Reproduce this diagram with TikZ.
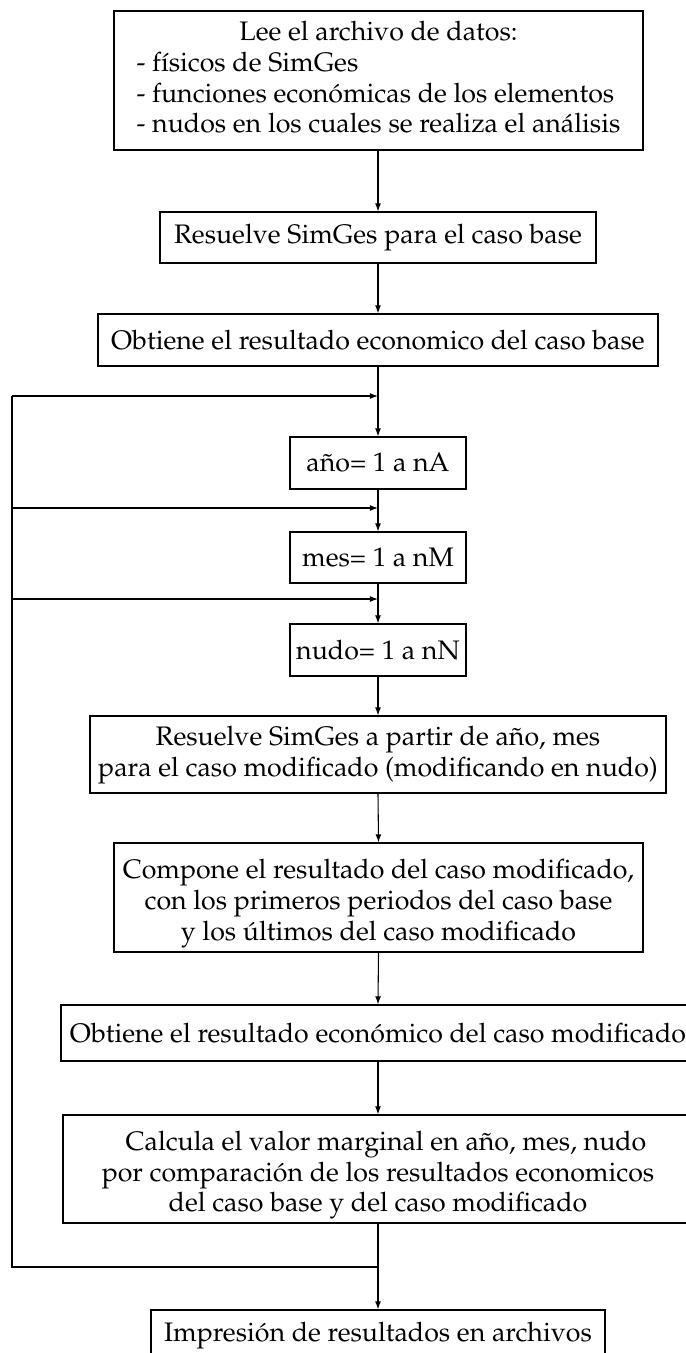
\documentclass[tikz,border=0pt]{standalone}
\usepackage[T1]{fontenc}
\usepackage{mathpazo}
\usetikzlibrary{arrows.meta}
\newlength\pxu
\setlength\pxu{0.3736pt}
\tikzset{
  box/.style={draw, line width=0.45pt, inner sep=0pt, font=\fontsize{10}{11.5}\selectfont},
  flow/.style={line width=0.4pt, -{Latex[length=3pt,width=2.2pt]}},
  loopline/.style={line width=0.4pt},
}
\begin{document}
\begin{tikzpicture}[x=0.3736pt, y=-0.3736pt]
\useasboundingbox (0,0) rectangle (686,1353);
\clip (0,0) rectangle (686,1353);
\node[box, minimum width=529\pxu, minimum height=139\pxu] (b1) at (378.5,80.5)
  {\begin{tabular}{@{}l@{}}\multicolumn{1}{@{}c@{}}{Lee el archivo de datos:}\\
   - físicos de SimGes\\
   - funciones económicas de los elementos\\
   - nudos en los cuales se realiza el análisis\end{tabular}};
\node[box, minimum width=436\pxu, minimum height=51\pxu] (b2) at (378,237.5) {Resuelve SimGes para el caso base};
\node[box, minimum width=560\pxu, minimum height=52\pxu] (b3) at (378,340) {Obtiene el resultado economico del caso base};
\node[box, minimum width=176\pxu, minimum height=52\pxu] (ano) at (378,463) {año= 1 a nA};
\node[box, minimum width=176\pxu, minimum height=51\pxu] (mes) at (378,557.5) {mes= 1 a nM};
\node[box, minimum width=176\pxu, minimum height=52\pxu] (nudo) at (378,650) {nudo= 1 a nN};
\node[box, minimum width=576\pxu, minimum height=77\pxu] (rp) at (378,754.5)
  {\begin{tabular}{@{}c@{}}Resuelve SimGes a partir de año, mes\\para el caso modificado (modificando en nudo)\end{tabular}};
\node[box, minimum width=529\pxu, minimum height=109\pxu] (comp) at (378.5,897.5)
  {\begin{tabular}{@{}c@{}}\rule{0pt}{12.5pt}Compone el resultado del caso modificado,\\con los primeros periodos del caso base\\y los últimos del caso modificado\end{tabular}};
\node[box, minimum width=634\pxu, minimum height=56\pxu] (obt) at (378,1033) {Obtiene el resultado económico del caso modificado};
\node[box, minimum width=630\pxu, minimum height=108\pxu] (calc) at (378,1169)
  {\begin{tabular}{@{}c@{}}\rule{0pt}{12.5pt}\hspace*{6pt}Calcula el valor marginal en año, mes, nudo\\por comparación de los resultados economicos\\del caso base y del caso modificado\end{tabular}};
\node[box, minimum width=454\pxu, minimum height=52\pxu] (imp) at (378,1336) {Impresión de resultados en archivos};
% main flow
\draw[flow] (b1.south -| b2.north) -- (b2.north);
\draw[flow] (b2.south) -- (b3.north);
\draw[flow] (b3.south) -- (ano.north);
\draw[flow] (ano.south) -- (mes.north);
\draw[flow] (mes.south) -- (nudo.north);
\draw[flow] (nudo.south) -- (rp.north);
\draw[flow] (rp.south) -- (comp.north);
\draw[flow] (comp.south) -- (obt.north);
\draw[flow] (obt.south) -- (calc.north);
\draw[flow] (calc.south) -- (imp.north);
% loop
\coordinate (j) at (378,1267);
\coordinate (lb) at (12,1267);
\coordinate (l1) at (12,396);
\coordinate (l2) at (12,508);
\coordinate (l3) at (12,599);
\coordinate (t1) at (378,396);
\coordinate (t2) at (378,508);
\coordinate (t3) at (378,599);
\draw[loopline] (j) -- (lb) -- (l1);
\draw[flow] (l1) -- (t1);
\draw[flow] (l2) -- (t2);
\draw[flow] (l3) -- (t3);
\end{tikzpicture}
\end{document}
